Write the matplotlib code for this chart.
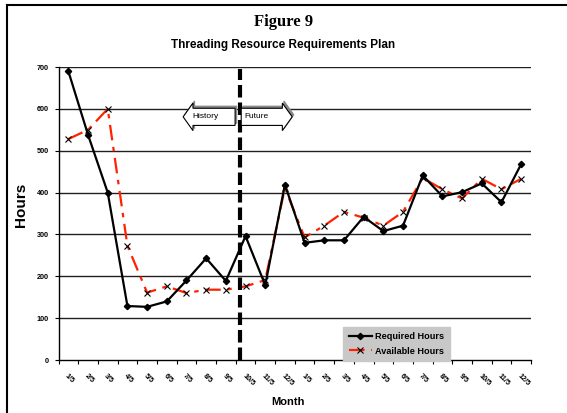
import numpy as np
import matplotlib.pyplot as plt
from matplotlib.patches import FancyArrow
from matplotlib.lines import Line2D

# data
months = ['1/5', '2/5', '3/5', '4/5', '5/5', '6/5', '7/5', '8/5', '9/5', '10/5', '11/5', '12/5',
          '1/5', '2/5', '3/5', '4/5', '5/5', '6/5', '7/5', '8/5', '9/5', '10/5', '11/5', '12/5']
required = [690, 538, 400, 129, 127, 140, 190, 243, 189, 296, 179, 419,
            280, 286, 286, 342, 308, 321, 441, 391, 401, 422, 377, 468]
available = [528, 550, 600, 273, 161, 176, 160, 168, 168, 176, 191, 411,
             293, 321, 354, 340, 321, 354, 435, 408, 386, 433, 408, 433]
split_pos = 8.7

plt.rcParams['font.family'] = ['Liberation Sans', 'DejaVu Sans']

fig = plt.figure(figsize=(5.67, 4.13), dpi=100)
ax = fig.add_axes([0.1032, 0.1283, 0.8333, 0.7094])

x = np.arange(len(months))
ax.set_xlim(-0.5, len(months) - 0.5)
ax.set_ylim(0, 700)

# grid lines
for yv in range(100, 800, 100):
    ax.axhline(yv, color='#202020', lw=1.0, zorder=1)

ax.plot(x, required, color='black', lw=1.6, marker='D', ms=3.2, zorder=4,
        label='Required Hours')
ax.plot(x, available, color='#ff2200', lw=1.6, dashes=(7, 3, 2, 3), zorder=3,
        marker='x', ms=5, mec='black', mew=0.8, label='Available Hours')

ax.vlines(split_pos, 0, 695, colors='black', lw=3, linestyles=(0, (3, 1.2)), zorder=5)

# history / future arrows
for x0, dx in [(8.47, -2.64), (8.78, 2.59)]:
    sh = FancyArrow(x0 + 0.08, 586, dx, 0, width=41, head_width=66, head_length=0.5,
                    length_includes_head=True, fc='#888888', ec='#888888', lw=0.8, zorder=5)
    ax.add_patch(sh)
    ar = FancyArrow(x0, 581, dx, 0, width=41, head_width=66, head_length=0.5,
                    length_includes_head=True, fc='white', ec='black', lw=0.8, zorder=6)
    ax.add_patch(ar)
ax.text(6.3, 582, 'History', fontsize=6, va='center', ha='left', zorder=7)
ax.text(8.92, 582, 'Future', fontsize=6, va='center', ha='left', zorder=7)

# axes styling
for s in ['top', 'right']:
    ax.spines[s].set_visible(False)
ax.spines['left'].set_linewidth(1.0)
ax.spines['bottom'].set_linewidth(1.0)
ax.set_yticks(range(0, 800, 100))
ax.tick_params(axis='y', labelsize=5.2, length=3, width=0.8, pad=4)
for lab in ax.get_yticklabels():
    lab.set_fontweight('bold')

ax.set_xticks(np.arange(-0.5, len(months), 1.0))
ax.set_xticklabels([])
ax.tick_params(axis='x', which='major', length=3, width=0.8)
ax.set_xticks(x, minor=True)
ax.set_xticklabels(months, minor=True, rotation=-45, ha='left', va='top',
                   rotation_mode='anchor', fontsize=5.2, fontweight='bold')
ax.tick_params(axis='x', which='minor', length=0, pad=9)

ax.set_xlabel('Month', fontsize=8, fontweight='bold')
ax.set_ylabel('Hours', fontsize=11, fontweight='bold')
ax.xaxis.set_label_coords(0.485, -0.125)
ax.yaxis.set_label_coords(-0.064, 0.53)

fig.text(0.5, 1 - 22 / 413, 'Figure 9', ha='center', va='center', fontsize=12,
         fontweight='bold', family='Liberation Serif')
fig.text(0.5, 1 - 45 / 413, 'Threading Resource Requirements Plan', ha='center',
         va='center', fontsize=8.5, fontweight='bold')

leg = ax.legend(loc='lower left', bbox_to_anchor=(343 / 567, 1 - 361 / 413),
                bbox_transform=fig.transFigure, borderaxespad=0,
                prop={'weight': 'bold', 'size': 6.6}, frameon=True, fancybox=False,
                handlelength=2.6, handletextpad=0.3, labelspacing=0.6, borderpad=0.6)
leg.get_frame().set_facecolor('#c8c8c8')
leg.get_frame().set_edgecolor('#c8c8c8')
leg.get_frame().set_alpha(1)
leg.set_zorder(10)

# outer frame lines
fig.add_artist(Line2D([7 / 567, 7 / 567], [0, 1 - 5 / 413], color='black', lw=1.5))
fig.add_artist(Line2D([7 / 567, 1], [1 - 5 / 413, 1 - 5 / 413], color='black', lw=1.5))

fig.savefig('out.png', dpi=100)
